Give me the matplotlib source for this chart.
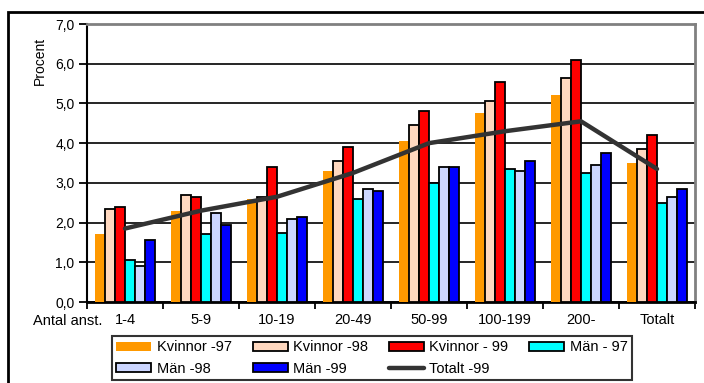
import numpy as np
import matplotlib
matplotlib.use("Agg")
import matplotlib.pyplot as plt
from matplotlib.patches import Rectangle

plt.rcParams['font.family'] = ['Liberation Sans', 'DejaVu Sans']

# Sjukfrånvaro per storleksklass (procent)
categories = ["1-4", "5-9", "10-19", "20-49", "50-99", "100-199", "200-", "Totalt"]
kvinnor_97 = [1.70, 2.30, 2.60, 3.30, 4.05, 4.75, 5.20, 3.50]
kvinnor_98 = [2.35, 2.70, 2.65, 3.55, 4.45, 5.05, 5.65, 3.85]
kvinnor_99 = [2.40, 2.65, 3.40, 3.90, 4.80, 5.55, 6.10, 4.20]
man_97 = [1.05, 1.70, 1.75, 2.60, 3.00, 3.35, 3.25, 2.50]
man_98 = [0.90, 2.25, 2.10, 2.85, 3.40, 3.30, 3.45, 2.65]
man_99 = [1.55, 1.95, 2.15, 2.80, 3.40, 3.55, 3.75, 2.85]
totalt_99 = [1.85, 2.30, 2.65, 3.25, 4.00, 4.30, 4.55, 3.35]

series = [
    ("Kvinnor -97", kvinnor_97, "#FF9900", "none"),
    ("Kvinnor -98", kvinnor_98, "#FFD8BF", "black"),
    ("Kvinnor - 99", kvinnor_99, "#FF0000", "black"),
    ("Män - 97", man_97, "#00FFFF", "black"),
    ("Män -98", man_98, "#CCD6FF", "black"),
    ("Män -99", man_99, "#0000FF", "black"),
]

fig = plt.figure(figsize=(7.04, 3.83), dpi=100)
ax = fig.add_axes([87 / 704, 1 - 302 / 383, 608 / 704, 278 / 383])

x = np.arange(len(categories))
w = 10 / 76
handles = []
for i, (name, vals, col, edge) in enumerate(series):
    b = ax.bar(x + (i - 2.5) * w, vals, width=w, color=col, edgecolor=edge,
               linewidth=1.3, label=name, zorder=3)
    handles.append(b)

ln, = ax.plot(x, totalt_99, color="#333333", linewidth=3.2,
              solid_capstyle="round", label="Totalt -99", zorder=4)
handles.append(ln)

ax.set_xlim(-0.5, len(categories) - 0.5)
ax.set_ylim(0, 7)
ax.set_yticks(np.arange(0, 8, 1))
ax.set_yticklabels([f"{v:.1f}".replace(".", ",") for v in range(8)], fontsize=10)
ax.yaxis.grid(True, color="black", linewidth=1.2, zorder=0)

# tick marks between groups, labels at group centres
ax.set_xticks(np.arange(-0.5, len(categories), 1))
ax.set_xticklabels([])
ax.set_xticks(x, minor=True)
ax.set_xticklabels(categories, minor=True, fontsize=10.5)
ax.tick_params(axis="x", which="minor", length=0, pad=8)
ax.tick_params(axis="x", which="major", length=5, width=1.3, direction="out")
ax.tick_params(axis="y", length=6, width=1.3, direction="out", pad=3)

ax.spines["left"].set_linewidth(1.5)
ax.spines["bottom"].set_linewidth(2)
for s in ("top", "right"):
    ax.spines[s].set_color("#808080")
    ax.spines[s].set_linewidth(2)

fig.text(40 / 704, 1 - 61 / 383, "Procent", rotation=90, ha="center",
         va="center", fontsize=10)
fig.text(33 / 704, 1 - 321 / 383, "Antal anst.", ha="left", va="center",
         fontsize=10.5)

# legend is filled column by column, so order the entries to read row-wise
order = [0, 4, 1, 5, 2, 6, 3]
leg = fig.legend(handles=[handles[k] for k in order], loc="lower left",
                 ncol=4, mode="expand",
                 bbox_to_anchor=(112 / 704, 1 - 380 / 383, 520 / 704, 45 / 383),
                 fontsize=10.5, frameon=True, fancybox=False, handlelength=2.4,
                 handleheight=0.55, handletextpad=0.4, columnspacing=0.9,
                 labelspacing=0.5, borderpad=0.3, borderaxespad=0)
leg.get_frame().set_edgecolor("black")
leg.get_frame().set_linewidth(1.5)

# outer chart frame
fig.patches.append(Rectangle((8 / 704, -0.1), 1.0, 1.1 - 12 / 383,
                             transform=fig.transFigure, fill=False,
                             edgecolor="black", linewidth=2))

fig.savefig("out.png", dpi=100)
